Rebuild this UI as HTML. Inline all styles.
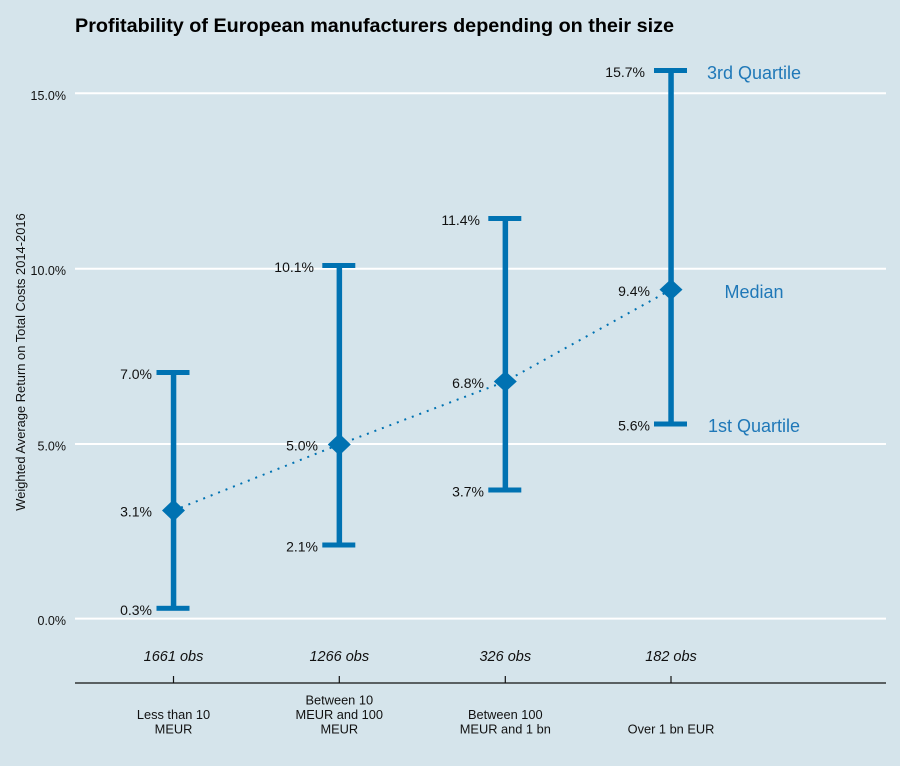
<!DOCTYPE html>
<html>
<head>
<meta charset="utf-8">
<style>
  html, body { margin: 0; padding: 0; background: #d5e4eb; }
  svg { display: block; }
  text { font-family: "Liberation Sans", Arial, sans-serif; }
</style>
</head>
<body>
<svg width="900" height="766" viewBox="0 0 900 766" xmlns="http://www.w3.org/2000/svg">
  <rect x="0" y="0" width="900" height="766" fill="#d5e4eb"/>

  <!-- Title -->
  <text x="75" y="32" font-size="19.8" font-weight="bold" fill="#000">Profitability of European manufacturers depending on their size</text>

  <!-- Gridlines -->
  <g stroke="#ffffff" stroke-width="2">
    <line x1="75" y1="618.6" x2="886" y2="618.6"/>
    <line x1="75" y1="444" x2="886" y2="444"/>
    <line x1="75" y1="268.7" x2="886" y2="268.7"/>
    <line x1="75" y1="93.2" x2="886" y2="93.2"/>
  </g>

  <!-- Y tick labels -->
  <g font-size="12.5" fill="#111" text-anchor="end">
    <text x="66" y="625">0.0%</text>
    <text x="66" y="450.5">5.0%</text>
    <text x="66" y="275.2">10.0%</text>
    <text x="66" y="100">15.0%</text>
  </g>

  <!-- Y axis title -->
  <text transform="translate(25,362) rotate(-90)" font-size="12.9" fill="#111" text-anchor="middle">Weighted Average Return on Total Costs 2014-2016</text>

  <!-- Dotted median line -->
  <polyline points="173.5,510.5 339.3,444.5 505.3,381.5 671,289.6" fill="none" stroke="#0072B2" stroke-width="2" stroke-dasharray="2,6"/>

  <!-- Error bars -->
  <g fill="#0072B2" stroke="none">
    <!-- Group 1 -->
    <rect x="170.8" y="372.5" width="5.5" height="235.8"/>
    <rect x="156.5" y="370" width="33" height="5"/>
    <rect x="156.5" y="605.8" width="33" height="5"/>
    <polygon points="173.5,499.5 185,510.5 173.5,521.5 162,510.5"/>

    <!-- Group 2 -->
    <rect x="336.6" y="265.5" width="5.5" height="279.5"/>
    <rect x="322.3" y="263" width="33" height="5"/>
    <rect x="322.3" y="542.5" width="33" height="5"/>
    <polygon points="339.3,433.5 350.8,444.5 339.3,455.5 327.8,444.5"/>

    <!-- Group 3 -->
    <rect x="502.6" y="218.5" width="5.5" height="271.5"/>
    <rect x="488.3" y="216" width="33" height="5"/>
    <rect x="488.3" y="487.5" width="33" height="5"/>
    <polygon points="505.3,371 516.8,381.5 505.3,392 493.8,381.5"/>

    <!-- Group 4 -->
    <rect x="668.3" y="70.5" width="5.5" height="353.5"/>
    <rect x="654" y="68" width="33" height="5"/>
    <rect x="654" y="421.5" width="33" height="5"/>
    <polygon points="671,279 682.5,289.6 671,300.2 659.5,289.6"/>
  </g>

  <!-- Value labels -->
  <g font-size="14" fill="#111" text-anchor="end">
    <text x="152" y="379">7.0%</text>
    <text x="152" y="516.7">3.1%</text>
    <text x="152" y="615">0.3%</text>

    <text x="314" y="272">10.1%</text>
    <text x="318" y="450.5">5.0%</text>
    <text x="318" y="551.5">2.1%</text>

    <text x="480" y="225">11.4%</text>
    <text x="484" y="388">6.8%</text>
    <text x="484" y="496.5">3.7%</text>

    <text x="645" y="77">15.7%</text>
    <text x="650" y="296">9.4%</text>
    <text x="650" y="430.5">5.6%</text>
  </g>

  <!-- Annotations -->
  <g font-size="18" fill="#1f78b8" text-anchor="middle">
    <text x="754" y="79">3rd Quartile</text>
    <text x="754" y="298">Median</text>
    <text x="754" y="432">1st Quartile</text>
  </g>

  <!-- Obs labels -->
  <g font-size="14.5" font-style="italic" fill="#111" text-anchor="middle">
    <text x="173.5" y="661">1661 obs</text>
    <text x="339.3" y="661">1266 obs</text>
    <text x="505.3" y="661">326 obs</text>
    <text x="671" y="661">182 obs</text>
  </g>

  <!-- X axis -->
  <line x1="75" y1="683" x2="886" y2="683" stroke="#111" stroke-width="1.3"/>
  <g stroke="#111" stroke-width="1.2">
    <line x1="173.5" y1="676" x2="173.5" y2="683"/>
    <line x1="339.3" y1="676" x2="339.3" y2="683"/>
    <line x1="505.3" y1="676" x2="505.3" y2="683"/>
    <line x1="671" y1="676" x2="671" y2="683"/>
  </g>

  <!-- X category labels -->
  <g font-size="12.8" fill="#111" text-anchor="middle">
    <text x="173.5" y="719">Less than 10</text>
    <text x="173.5" y="733.3">MEUR</text>

    <text x="339.3" y="704.5">Between 10</text>
    <text x="339.3" y="719">MEUR and 100</text>
    <text x="339.3" y="733.3">MEUR</text>

    <text x="505.3" y="719">Between 100</text>
    <text x="505.3" y="733.3">MEUR and 1 bn</text>

    <text x="671" y="733.3">Over 1 bn EUR</text>
  </g>
</svg>
</body>
</html>
